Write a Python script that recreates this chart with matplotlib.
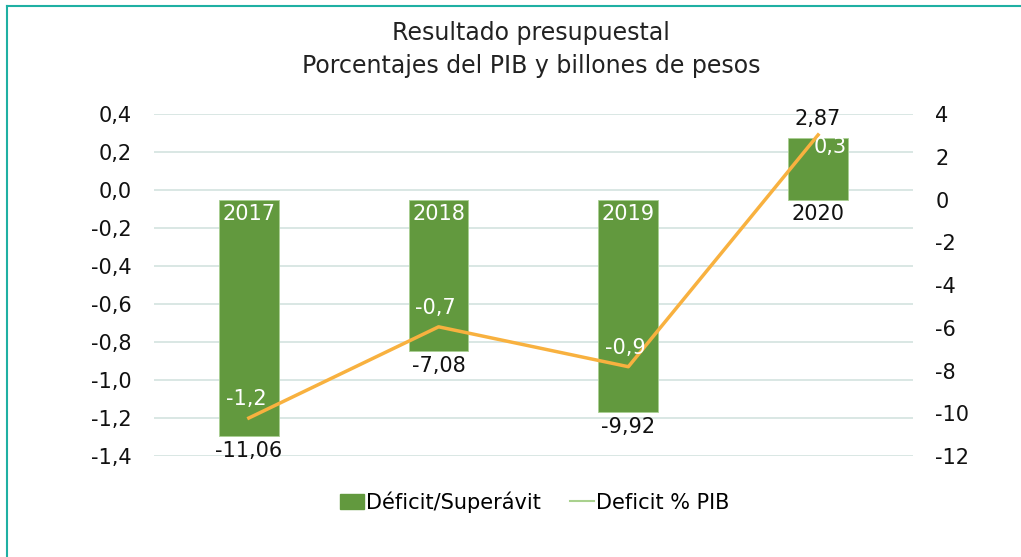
import matplotlib.pyplot as plt
from matplotlib.patches import Patch
from matplotlib.lines import Line2D

plt.rcParams['font.family'] = ['DejaVu Sans']
plt.rcParams['axes.unicode_minus'] = False

### data
years = ['2017', '2018', '2019', '2020']
billones = [-11.06, -7.08, -9.92, 2.87]
pctPib = [-1.2, -0.72, -0.93, 0.29]

barColor = '#62993e'
lineColor = '#f8b13f'
gridColor = '#d7e5e2'
frameColor = '#1fb0a3'
fs = 15


def fmt(v, dec):
    return ('%.' + str(dec) + 'f') % v


fig = plt.figure(figsize=(10.21, 5.57), dpi=100)
ax = fig.add_axes([0.1508, 0.1813, 0.7434, 0.614])
ax2 = ax.twinx()
ax3 = ax.twinx()

x = list(range(len(years)))

# left axis: grid + ticks
ax.set_ylim(-1.4, 0.4)
ax.set_yticks([-1.4 + 0.2 * i for i in range(10)])
ax.set_yticklabels([fmt(-1.4 + 0.2 * i, 1).replace('.', ',').replace('-0,0', '0,0') for i in range(10)])
ax.set_xlim(-0.5, 3.5)
ax.set_xticks([])
ax.grid(axis='y', color=gridColor, linewidth=1.3)
ax.tick_params(axis='y', length=0, pad=16, labelsize=fs, labelcolor='#111111')

# right axis: bars
ax2.bar(x, billones, width=0.315, color=barColor, edgecolor='#a9cf93', linewidth=0.6, zorder=2)
ax2.set_ylim(-12, 4)
ax2.set_yticks(range(-12, 5, 2))
ax2.tick_params(axis='y', length=0, pad=16, labelsize=fs, labelcolor='#111111')
ax2.set_xlim(-0.5, 3.5)

for i, v in enumerate(billones):
    lbl = fmt(v, 2).replace('.', ',')
    if v < 0:
        ax2.annotate(lbl, (x[i], v), xytext=(0, -5), textcoords='offset pixels',
                     ha='center', va='top', fontsize=fs, color='#111111')
        ax2.annotate(years[i], (x[i], 0), xytext=(0, -4), textcoords='offset pixels',
                     ha='center', va='top', fontsize=fs, color='white')
    else:
        ax2.annotate(lbl, (x[i], v), xytext=(0, 9), textcoords='offset pixels',
                     ha='center', va='bottom', fontsize=fs, color='#111111')
        ax2.annotate(years[i], (x[i], 0), xytext=(0, -4), textcoords='offset pixels',
                     ha='center', va='top', fontsize=fs, color='#111111')

# line on left scale
ax3.set_ylim(-1.4, 0.4)
ax3.set_xlim(-0.5, 3.5)
ax3.set_yticks([])
ax3.plot(x, pctPib, color=lineColor, linewidth=2.5, zorder=3)
for i, v in enumerate(pctPib):
    lbl = fmt(v, 1).replace('.', ',')
    if v < 0:
        ax3.annotate(lbl, (x[i], v), xytext=(-3, 19), textcoords='offset pixels',
                     ha='center', va='center', fontsize=fs, color='white')
    else:
        ax3.annotate(lbl, (x[i], v), xytext=(-4, -12), textcoords='offset pixels',
                     ha='left', va='center', fontsize=fs, color='white')

for a in (ax, ax2, ax3):
    for s in a.spines.values():
        s.set_visible(False)

fig.text(0.520, 0.94, 'Resultado presupuestal', ha='center', va='center', fontsize=17, color='#222222')
fig.text(0.520, 0.881, 'Porcentajes del PIB y billones de pesos', ha='center', va='center', fontsize=17, color='#222222')

handles = [Patch(facecolor=barColor, edgecolor=barColor),
           Line2D([0], [0], color='#a9d18e', linewidth=1.5)]
fig.legend(handles, ['Déficit/Superávit', 'Deficit % PIB'], loc='center', bbox_to_anchor=(0.524, 0.099),
           ncol=2, frameon=False, fontsize=fs, handlelength=1.15, handletextpad=0.1, columnspacing=1.4)

# teal frame top and left
fig.add_artist(Line2D([0.0069, 1.0], [0.989, 0.989], color=frameColor, linewidth=1.5, transform=fig.transFigure))
fig.add_artist(Line2D([0.0069, 0.0069], [0.0, 0.989], color=frameColor, linewidth=1.5, transform=fig.transFigure))

fig.savefig('out.png', dpi=100)
